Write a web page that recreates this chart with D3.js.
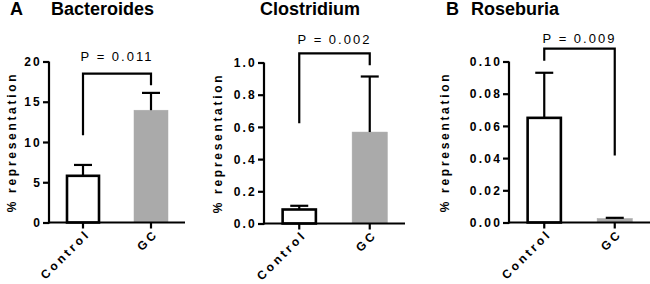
<!DOCTYPE html>
<html lang="en">
    <head>
        <meta charset="utf-8">
        <title>Bacteria representation, Control vs GC</title>
        <script src="https://d3js.org/d3.v7.min.js"></script>
        <style type="text/css">
          body { margin: 0; background: #fff; }
          svg { width: 650px; height: 284px; display: block; }
          text { font-family: "Liberation Sans", Arial, Helvetica, sans-serif; fill: #000; }
          .title { font-size: 18px; font-weight: bold; }
          .ticks { font-size: 12px; font-weight: bold; letter-spacing: 2.2px; }
          .ylab { font-size: 12px; font-weight: bold; letter-spacing: 2.7px; }
          .xlab { font-size: 12px; font-weight: bold; letter-spacing: 3.1px; }
          .pval { font-size: 13px; letter-spacing: 2px; }
        </style>
    </head>
    <body>
        <svg></svg>
        <script type="text/javascript">

// values
const groups = ["Control", "GC"];
const genera = ["Bacteroides", "Clostridium", "Roseburia"];
const panelLetters = ["A", "", "B"];
const meanValues = [[5.8, 13.95], [0.087, 0.568], [0.065, 0.0025]];
const errValues = [[1.35, 2.15], [0.023, 0.345], [0.028, 0.0004]];
const yMax = [20, 1.0, 0.10];
const yTicks = [[0, 5, 10, 15, 20], [0, 0.2, 0.4, 0.6, 0.8, 1.0], [0, 0.02, 0.04, 0.06, 0.08, 0.10]];
const tickFormats = ["d", ".1f", ".2f"];
const pValues = ["0.011", "0.002", "0.009"];
const bracketTop = [18.5, 1.057, 0.108];
const bracketLegs = [[10.85, 17.05], [0.623, 0.983], [0.1004, 0.0416]];

// layout of the three panels (pixels)
const panels = [
  {axisX: 49, right: 185, y0: 222.5, yTop: 61.5, ylabX: 16, titleX: 51, letterX: 10, pGap: 12.5},
  {axisX: 264, right: 405, y0: 223.5, yTop: 62.5, ylabX: 222, titleX: 260, letterX: 0, pGap: 9},
  {axisX: 509, right: 650, y0: 222.5, yTop: 61.5, ylabX: 449, titleX: 471, letterX: 446, pGap: 6}
];

const svg = d3.select("svg");
const strokeW = 2.2;

genera.forEach((name, k) => {
  const p = panels[k];
  const g = svg.append("g");

  const x = d3.scaleBand()
              .domain(groups)
              .range([p.axisX, p.right])
              .paddingInner(0.5)
              .paddingOuter(0.25);
  const y = d3.scaleLinear()
              .domain([0, yMax[k]])
              .range([p.y0, p.yTop]);

  const rows = groups.map((gr, i) => ({group: gr, mean: meanValues[k][i], err: errValues[k][i]}));

  // bars
  g.selectAll("rect.bar")
   .data(rows)
   .enter()
   .append("rect")
   .attr("class", "bar")
   .attr("x", d => x(d.group) + (d.group == "GC" ? 0 : 1))
   .attr("width", d => x.bandwidth() - (d.group == "GC" ? 0 : 2))
   .attr("y", d => y(d.mean))
   .attr("height", d => y(0) - y(d.mean))
   .attr("fill", d => d.group == "GC" ? "#aaaaaa" : "#ffffff")
   .attr("stroke", d => d.group == "GC" ? "#aaaaaa" : "#000")
   .attr("stroke-width", d => d.group == "GC" ? 0.5 : 2.6);

  // error bars (upper only)
  const eb = g.selectAll("g.err")
              .data(rows)
              .enter()
              .append("g")
              .attr("class", "err")
              .attr("stroke", "#000")
              .attr("stroke-width", strokeW);
  eb.append("line")
    .attr("x1", d => x(d.group) + x.bandwidth() / 2)
    .attr("x2", d => x(d.group) + x.bandwidth() / 2)
    .attr("y1", d => y(d.mean))
    .attr("y2", d => y(d.mean + d.err));
  eb.append("line")
    .attr("x1", d => x(d.group) + x.bandwidth() / 2 - 9)
    .attr("x2", d => x(d.group) + x.bandwidth() / 2 + 9)
    .attr("y1", d => y(d.mean + d.err))
    .attr("y2", d => y(d.mean + d.err));

  // y axis
  const yAxis = g.append("g")
                 .attr("transform", "translate(" + p.axisX + ",0)")
                 .call(d3.axisLeft(y).tickValues(yTicks[k]).tickFormat(d3.format(tickFormats[k])).tickSize(6).tickSizeOuter(0));
  yAxis.select(".domain").attr("stroke-width", strokeW).attr("d", "M0," + (p.y0 + 1) + "V" + p.yTop);
  yAxis.selectAll(".tick line").attr("stroke-width", strokeW);
  yAxis.selectAll(".tick text").attr("class", "ticks").attr("x", -7).attr("dy", "0.35em").attr("font-family", null).attr("font-size", null);

  // x axis
  const xAxis = g.append("g")
                 .attr("transform", "translate(0," + p.y0 + ")")
                 .call(d3.axisBottom(x).tickSize(6).tickSizeOuter(0));
  xAxis.select(".domain").attr("stroke-width", strokeW).attr("d", "M" + (p.axisX - 1) + ",0H" + p.right);
  xAxis.selectAll(".tick line").attr("stroke-width", strokeW);
  xAxis.selectAll(".tick text")
       .attr("class", "xlab")
       .attr("font-family", null).attr("font-size", null)
       .attr("text-anchor", "end")
       .attr("y", 0).attr("dy", 0)
       .attr("transform", "translate(8,12) rotate(-45)");

  // y label
  g.append("text")
   .attr("class", "ylab")
   .attr("text-anchor", "middle")
   .attr("transform", "translate(" + p.ylabX + "," + ((p.y0 + p.yTop) / 2) + ") rotate(-90)")
   .text("% representation");

  // significance bracket
  const xl = x(groups[0]) + x.bandwidth() / 2;
  const xr = x(groups[1]) + x.bandwidth() / 2;
  g.append("path")
   .attr("fill", "none")
   .attr("stroke", "#000")
   .attr("stroke-width", strokeW)
   .attr("d", "M" + xl + "," + y(bracketLegs[k][0]) + "V" + y(bracketTop[k]) + "H" + xr + "V" + y(bracketLegs[k][1]));
  g.append("text")
   .attr("class", "pval")
   .attr("text-anchor", "middle")
   .attr("x", (xl + xr) / 2)
   .attr("y", y(bracketTop[k]) - p.pGap)
   .text("P = " + pValues[k]);

  // titles
  if (panelLetters[k]) {
    g.append("text").attr("class", "title").attr("x", p.letterX).attr("y", 15).text(panelLetters[k]);
  }
  g.append("text").attr("class", "title").attr("x", p.titleX).attr("y", 15).text(name);
});

        </script>
    </body>
</html>
